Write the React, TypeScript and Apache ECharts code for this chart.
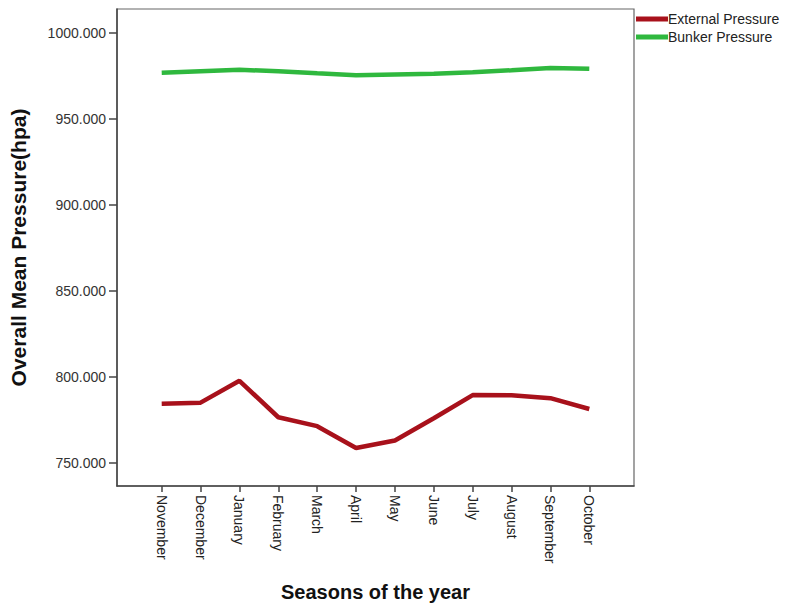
import React, { useEffect, useRef } from "react";
import * as echarts from "echarts";

const months = ["November", "December", "January", "February", "March", "April", "May", "June", "July", "August", "September", "October"];
const externalPressure = [784.4, 785.0, 797.7, 776.5, 771.3, 758.6, 763.0, 775.9, 789.4, 789.3, 787.6, 781.3];
const bunkerPressure = [976.9, 977.8, 978.6, 977.8, 976.6, 975.5, 975.9, 976.3, 977.2, 978.4, 979.7, 979.2];
const yTicks = [750, 800, 850, 900, 950, 1000];

export default function App() {
  const ref = useRef<HTMLDivElement>(null);
  useEffect(() => {
    if (!ref.current) return;
    const chart = echarts.init(ref.current, null, { renderer: "svg" });
    const idx = months.map((_, i) => i);
    const font = "'Liberation Sans', Arial, sans-serif";
    chart.setOption({
      animation: false,
      backgroundColor: "#ffffff",
      grid: { left: 116, top: 9, right: 153, bottom: 118, show: true, borderColor: "#666", borderWidth: 1.2, backgroundColor: "transparent" },
      legend: {
        orient: "vertical",
        left: 631,
        top: 7,
        itemWidth: 32,
        itemHeight: 5,
        itemGap: 4,
        icon: "rect",
        textStyle: { fontFamily: font, fontSize: 14, color: "#222", padding: [0, 0, 0, -5] },
        data: ["External Pressure", "Bunker Pressure"],
      },
      xAxis: {
        type: "value",
        min: -1.15,
        max: 12.15,
        name: "Seasons of the year",
        nameLocation: "middle",
        nameGap: 96,
        nameTextStyle: { fontFamily: font, fontSize: 20, fontWeight: "bold", color: "#111" },
        axisLine: { show: true, onZero: false, lineStyle: { color: "#444", width: 1.5 } },
        axisTick: { show: true, length: 6, customValues: idx, lineStyle: { color: "#444", width: 1.5 } },
        axisLabel: {
          customValues: idx,
          rotate: -90,
          fontFamily: font,
          fontSize: 14,
          color: "#222",
          margin: 9,
          formatter: (v: number) => months[Math.round(v)] ?? "",
        },
        splitLine: { show: false },
      },
      yAxis: {
        type: "value",
        min: 736.5,
        max: 1014,
        name: "Overall Mean Pressure(hpa)",
        nameLocation: "middle",
        nameGap: 88,
        nameTextStyle: { fontFamily: font, fontSize: 21, fontWeight: "bold", color: "#111" },
        axisLine: { show: true, onZero: false, lineStyle: { color: "#444", width: 1.5 } },
        axisTick: { show: true, length: 8, customValues: yTicks, lineStyle: { color: "#444", width: 1.5 } },
        axisLabel: {
          customValues: yTicks,
          fontFamily: font,
          fontSize: 14,
          color: "#333",
          margin: 11,
          formatter: (v: number) => v.toFixed(3),
        },
        splitLine: { show: false },
      },
      series: [
        {
          name: "External Pressure",
          type: "line",
          data: externalPressure.map((v, i) => [i, v]),
          showSymbol: false,
          symbol: "none",
          lineStyle: { color: "#a8111b", width: 4.5 },
          itemStyle: { color: "#a8111b" },
        },
        {
          name: "Bunker Pressure",
          type: "line",
          data: bunkerPressure.map((v, i) => [i, v]),
          showSymbol: false,
          symbol: "none",
          lineStyle: { color: "#2fb83e", width: 4.5 },
          itemStyle: { color: "#2fb83e" },
        },
      ],
    });
    return () => chart.dispose();
  }, []);
  return <div ref={ref} style={{ width: 787, height: 607, position: "absolute", left: 0, top: 0 }} />;
}
